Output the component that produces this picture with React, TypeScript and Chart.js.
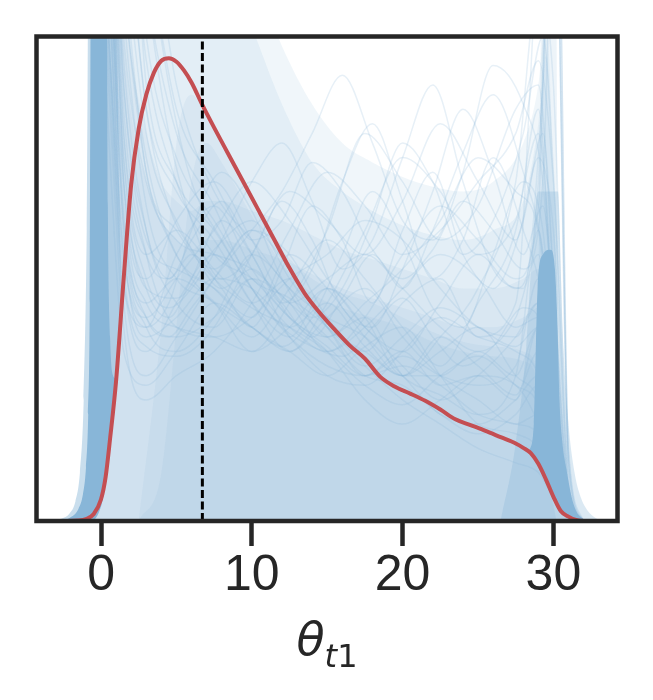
import React, { useEffect, useRef } from "react";
import { Chart, registerables } from "chart.js";

Chart.register(...registerables);

// ---------- axis settings ----------
const X_MIN = -4.28;
const X_MAX = 34.25;
const Y_MAX = 100; // density, scaled (y axis hidden)
const X_TICKS = [0, 10, 20, 30];
const TRUE_THETA = 6.72; // dashed reference line
const AXIS_SYMBOL = "θ";
const AXIS_SUB_ITALIC = "t";
const AXIS_SUB_UPRIGHT = "1";

// ---------- posterior density (red) ----------
const RED_X = [-2.5, -1.5, -1, -0.5, 0, 0.3, 0.6, 1, 1.5, 2, 2.5, 3, 3.5, 4, 4.5, 5, 5.5, 6, 6.7, 7.5, 8.5, 9.5, 10.5, 11.5, 12.5, 13.5, 14.5, 15.5, 16.5, 17.5, 18.5, 19.5, 20.5, 21.5, 22.5, 23.5, 24.5, 25.5, 26.5, 27.5, 28, 28.5, 29, 29.5, 30, 30.5, 31, 31.5, 32, 33];
const RED_Y = [0, 0.1, 0.4, 1.4, 4.5, 9, 17, 29, 50, 69.5, 81, 88, 92.5, 95, 95.5, 94.8, 93, 90.5, 86, 81.2, 75.4, 69.6, 63.8, 58, 52.2, 47, 43, 39.5, 36.2, 33.5, 29.8, 27.7, 26.3, 24.8, 23, 21, 19.8, 18.6, 17.3, 16, 15.1, 14, 11.8, 8.6, 5, 2, 0.9, 0.2, 0, 0];

// ---------- cloud of sampled densities (blue) : summary envelopes ----------
const WASH_X = [-0.6, 0, 0.5, 1, 2, 3, 4, 5, 6, 7, 8, 10, 12, 14, 16, 18, 20, 22, 24, 26, 28, 29, 29.5, 30, 30.5, 31, 31.5, 32];
const WASH_OUTER_A = [0, 130, 130, 130, 130, 130, 130, 130, 130, 130, 126, 114, 98, 86, 78, 74, 71, 69, 68, 70, 78, 90, 104, 72, 22, 6, 1.8, 0];
const WASH_OUTER_B = [0, 130, 130, 130, 130, 130, 130, 130, 128, 124, 118, 102, 86, 74, 68, 64, 61, 59, 58, 60, 66, 82, 96, 68, 18, 4, 1.2, 0];
const WASH_INNER_A = [0, 130, 130, 124, 96, 80, 70, 66, 64, 66, 66, 64, 62, 59, 56, 54, 52, 50, 48, 48, 50, 52, 48, 27, 9, 2.5, 0.6, 0];
const WASH_INNER_B = [0, 130, 130, 116, 84, 70, 62, 58, 56, 58, 58, 56, 54, 51, 48, 46, 44, 42, 40, 40, 42, 44, 42, 23, 7, 1.5, 0.4, 0];

const CORE_X = [2.5, 4, 5, 6, 7, 8, 10, 12, 14, 16, 18, 20, 22, 24, 26, 28, 29, 29.6, 30.2];
const CORE_A = [0, 40, 78, 88, 84, 78, 66, 56, 50, 47, 45, 42, 39, 37, 36, 35, 30, 12, 0];
const CORE_B = [0, 10, 40, 70, 78, 74, 63, 53, 47, 44, 42, 40, 37, 35, 34, 33, 28, 10, 0];

const HALO_L_X = [-3.2, -2.6, -2.1, -1.7, -1.4, -1.15, -0.95, -0.8, 0, 0.4, 0.9, 1.2, 1.4];
const HALO_L_HIGH = [0, 0.5, 1.5, 4, 10, 25, 60, 130, 130, 130, 130, 70, 42];
const HALO_L_LOW = [0, 0, 0, 0, 0, 0, 0, 0, 4.5, 11, 26, 35, 42];

const HALO_R_X = [26.5, 27.5, 28.2, 28.6, 29, 30.3, 30.6, 31, 31.4, 31.8, 32.3, 32.8, 33.3];
const HALO_R_Y = [0, 16, 36, 56, 68, 68, 40, 20, 10, 5, 2, 0.6, 0];

const STRIP_R_X = [29.0, 29.4, 29.8, 30.1, 30.3];
const STRIP_R_LOW = [50, 55, 56, 52, 40];
const STRIP_R_HIGH = [50, 150, 150, 150, 40];

const SOLID_L_X = [-2.6, -2.0, -1.5, -1.2, -1.0, -0.85, -0.75, -0.66, 0, 0.2, 0.35, 0.45, 0.6, 0.8, 0.95, 1.0];
const SOLID_L_HIGH = [0, 0.8, 2.5, 5.5, 11, 22, 45, 130, 130, 130, 130, 65, 38, 30, 29.5, 29.5];
const SOLID_L_LOW = [0, 0, 0, 0, 0, 0, 0, 0, 3, 6, 10, 12.5, 17, 23, 28.5, 29.5];

const SOLID_R_X = [28.4, 28.7, 28.95, 29.3, 29.8, 30.1, 30.25, 30.4, 30.6, 30.9, 31.1, 31.3, 31.6, 32.0, 32.4];
const SOLID_R_HIGH = [14.2, 20, 48, 55, 56, 52, 42, 25, 16, 10, 6.5, 3.8, 1.5, 0.4, 0];
const SOLID_R_LOW = [14.2, 13.4, 12.2, 10.1, 6.6, 4.3, 3.3, 2.3, 1.5, 1.0, 0.8, 0.5, 0.2, 0, 0];

// ---------- individual sampled densities (blue lines) ----------
const SAMPLE_X = [-0.6, 0.5, 1.5, 3, 5, 7.5, 10, 12.5, 15, 17.5, 20, 22.5, 25, 27.5, 29, 30, 31, 32];
const S01 = [150, 150, 80, 55, 60, 52, 45, 50, 40, 30, 35, 28, 30, 25, 40, 20, 3, 0];
const S02 = [150, 120, 60, 40, 35, 42, 55, 48, 38, 42, 30, 26, 22, 30, 60, 30, 4, 0];
const S03 = [150, 150, 150, 90, 70, 60, 48, 40, 45, 36, 30, 35, 40, 30, 25, 12, 2, 0];
const S04 = [150, 100, 45, 30, 38, 50, 60, 55, 42, 35, 45, 50, 38, 45, 120, 150, 10, 0];
const S05 = [150, 150, 110, 75, 55, 48, 40, 35, 30, 36, 40, 30, 20, 18, 15, 8, 1, 0];
const S06 = [150, 140, 70, 50, 62, 70, 58, 45, 50, 55, 48, 40, 35, 42, 55, 25, 3, 0];
const S07 = [150, 150, 150, 120, 85, 70, 55, 42, 35, 25, 20, 25, 30, 28, 20, 10, 2, 0];
const S08 = [150, 90, 40, 25, 30, 35, 45, 60, 72, 65, 55, 60, 70, 80, 95, 70, 8, 0];
const S09 = [150, 150, 95, 60, 45, 40, 50, 38, 30, 28, 35, 42, 38, 35, 30, 15, 2, 0];
const S10 = [150, 130, 65, 45, 50, 45, 38, 48, 58, 50, 40, 32, 45, 60, 85, 40, 5, 0];
const S11 = [150, 150, 130, 85, 68, 58, 45, 35, 42, 48, 38, 30, 25, 20, 22, 12, 2, 0];
const S12 = [150, 110, 55, 42, 50, 60, 70, 62, 50, 40, 35, 45, 55, 48, 70, 150, 15, 0];
const S13 = [150, 150, 100, 70, 58, 55, 52, 45, 38, 30, 28, 22, 18, 22, 28, 14, 2, 0];
const S14 = [150, 150, 85, 55, 40, 38, 42, 50, 55, 62, 58, 48, 40, 38, 45, 22, 3, 0];
const S15 = [150, 150, 150, 100, 75, 62, 50, 46, 40, 32, 25, 20, 15, 12, 10, 5, 1, 0];
const S16 = [150, 80, 35, 28, 35, 45, 40, 35, 45, 60, 75, 68, 55, 62, 80, 45, 6, 0];
const S17 = [150, 150, 120, 80, 62, 52, 60, 52, 40, 35, 30, 38, 32, 26, 35, 18, 2, 0];
const S18 = [150, 120, 58, 38, 42, 50, 48, 40, 35, 40, 48, 55, 50, 40, 42, 20, 3, 0];
const S19 = [150, 150, 150, 110, 80, 65, 48, 38, 32, 30, 34, 30, 28, 32, 50, 28, 3, 0];
const S20 = [150, 100, 50, 35, 45, 55, 45, 38, 48, 42, 30, 38, 48, 70, 110, 90, 8, 0];
const S21 = [150, 150, 105, 65, 50, 45, 35, 40, 48, 40, 32, 25, 30, 38, 45, 20, 2, 0];
const S22 = [150, 150, 140, 95, 70, 55, 50, 42, 36, 30, 32, 28, 22, 20, 18, 9, 1, 0];
const S23 = [150, 95, 48, 40, 55, 65, 52, 42, 38, 45, 52, 62, 75, 68, 60, 30, 4, 0];
const S24 = [150, 150, 90, 58, 52, 48, 42, 55, 48, 38, 30, 30, 35, 30, 40, 20, 2, 0];
const S25 = [150, 150, 150, 130, 90, 68, 58, 48, 42, 38, 30, 22, 20, 25, 30, 15, 2, 0];
const S26 = [150, 125, 62, 42, 38, 42, 50, 45, 35, 42, 55, 65, 58, 50, 65, 150, 12, 0];
const S27 = [150, 150, 115, 72, 60, 50, 44, 40, 35, 28, 24, 30, 34, 28, 24, 12, 2, 0];
const S28 = [150, 140, 75, 48, 46, 56, 62, 50, 40, 32, 38, 44, 40, 36, 40, 18, 2, 0];
const S29 = [150, 150, 70, 45, 40, 38, 35, 45, 60, 80, 70, 58, 65, 85, 90, 50, 6, 0];
const S30 = [150, 110, 52, 36, 34, 40, 55, 68, 62, 55, 66, 82, 70, 58, 75, 60, 6, 0];
const SAMPLES_A = [S01, S02, S03, S04, S05, S06, S07, S08, S09, S10, S11, S12, S13, S14, S15, S16, S17, S18, S19, S20, S21, S22, S23, S24, S25, S26, S27, S28, S29, S30];

const SAMPLE2_X = [-0.6, 0.5, 1.5, 3, 4.5, 6, 8, 10, 12, 14, 16, 18, 20, 22, 24, 26, 28, 29.3, 30.2, 31, 32];
const T01 = [150, 150, 90, 60, 50, 55, 48, 40, 52, 65, 58, 45, 60, 72, 55, 48, 62, 80, 40, 5, 0];
const T02 = [150, 120, 70, 48, 42, 50, 62, 55, 45, 52, 70, 82, 66, 50, 58, 75, 60, 45, 20, 3, 0];
const T03 = [150, 150, 150, 110, 80, 62, 50, 55, 66, 58, 44, 40, 52, 68, 85, 72, 55, 65, 35, 4, 0];
const T04 = [150, 130, 75, 50, 44, 48, 58, 70, 78, 66, 52, 58, 75, 90, 70, 52, 48, 90, 150, 12, 0];
const T05 = [150, 150, 110, 72, 58, 50, 44, 40, 36, 42, 55, 68, 58, 44, 40, 55, 70, 60, 28, 3, 0];
const T06 = [150, 100, 55, 40, 45, 60, 72, 64, 50, 42, 48, 62, 78, 70, 55, 62, 80, 100, 60, 6, 0];
const T07 = [150, 150, 130, 85, 65, 56, 48, 52, 45, 38, 46, 55, 48, 60, 76, 88, 72, 55, 25, 3, 0];
const T08 = [150, 140, 80, 55, 50, 58, 66, 58, 62, 74, 68, 56, 50, 56, 66, 60, 52, 70, 150, 14, 0];
const T09 = [150, 150, 150, 120, 90, 70, 58, 48, 40, 36, 34, 40, 46, 38, 32, 36, 44, 40, 18, 2, 0];
const T10 = [150, 115, 62, 42, 38, 44, 52, 60, 68, 80, 92, 78, 62, 58, 72, 94, 86, 70, 32, 4, 0];
const SAMPLES_B = [T01, T02, T03, T04, T05, T06, T07, T08, T09, T10];

// ---------- style ----------
const BLUE = "rgb(136,182,216)";
const blueA = (a: number) => `rgba(136,182,216,${a})`;
const RED = "#c44e52";
const INK = "#262626";
const TRANSPARENT = "rgba(0,0,0,0)";

const pts = (xs: number[], ys: number[]) => xs.map((x, i) => ({ x, y: ys[i] }));

function buildDatasets() {
  const ds: any[] = [];
  const add = (d: any) => {
    ds.push({
      pointRadius: 0,
      cubicInterpolationMode: "monotone",
      borderWidth: 0,
      borderColor: TRANSPARENT,
      backgroundColor: TRANSPARENT,
      fill: false,
      ...d,
    });
    return ds.length - 1;
  };
  add({ data: pts(WASH_X, WASH_OUTER_A), fill: "origin", backgroundColor: blueA(0.13) });
  add({ data: pts(WASH_X, WASH_OUTER_B), fill: "origin", backgroundColor: blueA(0.13) });
  add({ data: pts(WASH_X, WASH_INNER_A), fill: "origin", backgroundColor: blueA(0.12) });
  add({ data: pts(WASH_X, WASH_INNER_B), fill: "origin", backgroundColor: blueA(0.12) });
  add({ data: pts(CORE_X, CORE_A), fill: "origin", backgroundColor: blueA(0.12) });
  add({ data: pts(CORE_X, CORE_B), fill: "origin", backgroundColor: blueA(0.12) });
  const hlLow = add({ data: pts(HALO_L_X, HALO_L_LOW) });
  add({ data: pts(HALO_L_X, HALO_L_HIGH), fill: hlLow, backgroundColor: blueA(0.45) });
  add({ data: pts(HALO_R_X, HALO_R_Y), fill: "origin", backgroundColor: blueA(0.3) });
  const stripLow = add({ data: pts(STRIP_R_X, STRIP_R_LOW) });
  add({ data: pts(STRIP_R_X, STRIP_R_HIGH), fill: stripLow, backgroundColor: blueA(0.15) });
  SAMPLES_A.forEach((s) => {
    add({ data: pts(SAMPLE_X, s), borderWidth: 1.5, borderColor: blueA(0.2) });
  });
  SAMPLES_B.forEach((s) => {
    add({ data: pts(SAMPLE2_X, s), borderWidth: 1.5, borderColor: blueA(0.2) });
  });
  const slLow = add({ data: pts(SOLID_L_X, SOLID_L_LOW) });
  add({ data: pts(SOLID_L_X, SOLID_L_HIGH), fill: slLow, backgroundColor: BLUE });
  const srLow = add({ data: pts(SOLID_R_X, SOLID_R_LOW) });
  add({ data: pts(SOLID_R_X, SOLID_R_HIGH), fill: srLow, backgroundColor: BLUE });
  add({ data: pts(RED_X, RED_Y), borderWidth: 4, borderColor: RED });
  add({
    data: [{ x: TRUE_THETA, y: 0 }, { x: TRUE_THETA, y: Y_MAX }],
    borderWidth: 3,
    borderColor: "#000000",
    borderDash: [8, 3.5],
    cubicInterpolationMode: "default",
    tension: 0,
  });
  const n = ds.length;
  ds.forEach((d, i) => (d.order = n - i));
  return ds;
}

const framePlugin = {
  id: "frame",
  afterDatasetsDraw(chart: any) {
    const { ctx, chartArea } = chart;
    ctx.save();
    ctx.strokeStyle = INK;
    ctx.lineWidth = 4.5;
    ctx.strokeRect(chartArea.left, chartArea.top, chartArea.right - chartArea.left, chartArea.bottom - chartArea.top);
    ctx.restore();
  },
};

const axisTitlePlugin = {
  id: "axisTitle",
  afterDraw(chart: any) {
    const { ctx, chartArea } = chart;
    const cx = (chartArea.left + chartArea.right) / 2;
    const baseline = 655;
    const subBaseline = 667;
    const f1 = 'italic 46px "DejaVu Sans"';
    const f2 = 'italic 32px "DejaVu Sans"';
    const f3 = '32px "DejaVu Sans"';
    ctx.save();
    ctx.fillStyle = INK;
    ctx.textBaseline = "alphabetic";
    ctx.textAlign = "left";
    ctx.font = f1;
    const w1 = ctx.measureText(AXIS_SYMBOL).width;
    ctx.font = f2;
    const w2 = ctx.measureText(AXIS_SUB_ITALIC).width;
    ctx.font = f3;
    const w3 = ctx.measureText(AXIS_SUB_UPRIGHT).width;
    let x = cx - (w1 + w2 + w3) / 2;
    ctx.font = f1;
    ctx.fillText(AXIS_SYMBOL, x, baseline);
    x += w1;
    ctx.font = f2;
    ctx.fillText(AXIS_SUB_ITALIC, x, subBaseline);
    x += w2;
    ctx.font = f3;
    ctx.fillText(AXIS_SUB_UPRIGHT, x, subBaseline);
    ctx.restore();
  },
};

export default function App() {
  const ref = useRef<HTMLCanvasElement | null>(null);
  useEffect(() => {
    if (!ref.current) return;
    const chart = new Chart(ref.current, {
      type: "line",
      data: { datasets: buildDatasets() },
      options: {
        animation: false,
        responsive: false,
        devicePixelRatio: 1,
        layout: { padding: { left: 36.5, right: 35.5, top: 36.5, bottom: 0 } },
        plugins: { legend: { display: false }, tooltip: { enabled: false }, title: { display: false } },
        elements: { point: { radius: 0 } },
        scales: {
          x: {
            type: "linear",
            min: X_MIN,
            max: X_MAX,
            afterBuildTicks: (s: any) => {
              s.ticks = X_TICKS.map((v) => ({ value: v }));
            },
            afterFit: (s: any) => {
              s.height = 179;
            },
            border: { display: false },
            grid: {
              display: true,
              drawOnChartArea: false,
              drawTicks: true,
              tickLength: 25,
              tickWidth: 4.5,
              tickColor: INK,
              color: INK,
            },
            ticks: {
              color: INK,
              font: { family: '"Liberation Sans", Arial, sans-serif', size: 50 },
              padding: 0,
              maxRotation: 0,
              autoSkip: false,
            },
          },
          y: { display: false, min: 0, max: Y_MAX },
        },
      },
      plugins: [framePlugin, axisTitlePlugin],
    });
    return () => chart.destroy();
  }, []);
  return (
    <div style={{ position: "fixed", left: 0, top: 0, width: 653, height: 700, background: "#fff" }}>
      <canvas ref={ref} width={653} height={700} style={{ width: 653, height: 700, display: "block" }} />
    </div>
  );
}
